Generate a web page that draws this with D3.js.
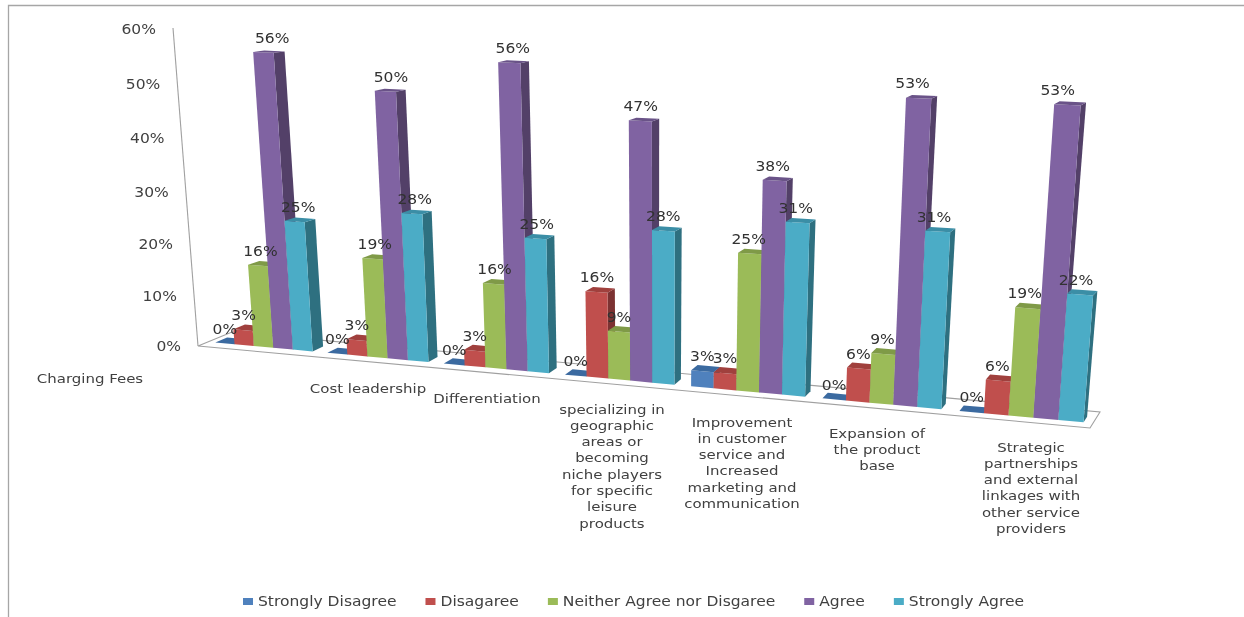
<!DOCTYPE html>
<html><head><meta charset="utf-8">
<script src="https://cdn.jsdelivr.net/npm/d3@7"></script>
<style>html,body{margin:0;padding:0;background:#fff}svg{display:block}text{font-family:"DejaVu Sans",sans-serif;fill:#404040}</style>
</head><body><div id="c"></div>
<script>
const categories = ["Charging Fees","Cost leadership","Differentiation","specializing in geographic areas or becoming niche players for specific leisure products","Improvement in customer service and Increased marketing and communication","Expansion of the product base","Strategic partnerships and external linkages with other service providers"];
const categoryLines = [["Charging Fees"],["Cost leadership"],["Differentiation"],["specializing in","geographic","areas or","becoming","niche players","for specific","leisure","products"],["Improvement","in customer","service and","Increased","marketing and","communication"],["Expansion of","the product","base"],["Strategic","partnerships","and external","linkages with","other service","providers"]];
const seriesNames = ["Strongly Disagree","Disagaree","Neither Agree nor Disgaree","Agree","Strongly Agree"];
const stronglyDisagree = [0,0,0,0,3,0,0];
const disagree = [3,3,3,16,3,6,6];
const neither = [16,19,16,9,25,9,19];
const agree = [56,50,56,47,38,53,53];
const stronglyAgree = [25,28,25,28,31,31,22];
const seriesValues = [stronglyDisagree,disagree,neither,agree,stronglyAgree];
const yTicks = [0,10,20,30,40,50,60];

const colors = ["#4F81BD","#C0504D","#9BBB59","#8064A2","#4BACC6"];
const sideColors = ["#2f4f75","#7c3331","#667c3a","#524068","#2f6f80"];
const topColors = ["#3b6aa0","#a03f3c","#7f9a47","#6a5388","#3a8ea6"];
const W=1244,H=617;

// perspective box corners: front plane and back plane
const front = {bl:[198,346],br:[1090,428],tr:[1116,65],tl:[173,28]};
const back  = {bl:[232,332],br:[1100,412],tr:[1132,57],tl:[207,25]};
function homography(c){
  const [x0,y0]=c.bl,[x1,y1]=c.br,[x2,y2]=c.tr,[x3,y3]=c.tl;
  const dx1=x1-x2,dx2=x3-x2,dx3=x0-x1+x2-x3,dy1=y1-y2,dy2=y3-y2,dy3=y0-y1+y2-y3;
  const den=dx1*dy2-dx2*dy1;
  const g=(dx3*dy2-dx2*dy3)/den,h=(dx1*dy3-dx3*dy1)/den;
  const a=x1-x0+g*x1,b=x3-x0+h*x3,d=y1-y0+g*y1,e=y3-y0+h*y3;
  return (u,v)=>{const k=g*u+h*v+1;return [(a*u+b*v+x0)/k,(d*u+e*v+y0)/k];};
}
const Hf=homography(front),Hb=homography(back);
const yScale=d3.scaleLinear().domain([0,60]).range([0,1]);
const x0=d3.scaleBand().domain(categories).range([0,1]).paddingInner(0.13).paddingOuter(0.065);
const x1=d3.scaleBand().domain(seriesNames).range([0,x0.bandwidth()]);
const depthNear=0.3,depthFar=0.65;
function project(u,value,w){
  const v=yScale(value),p=Hf(u,v),q=Hb(u,v);
  return [p[0]+(q[0]-p[0])*w,p[1]+(q[1]-p[1])*w];
}
const line=d3.line();
const svg=d3.select("#c").append("svg").attr("width",W).attr("height",H);
const defs=svg.append("defs");
defs.append("filter").attr("id","soft").attr("x","-5%").attr("y","-5%").attr("width","110%").attr("height","110%")
  .append("feGaussianBlur").attr("stdDeviation",0.45);
const root=svg.append("g").attr("filter","url(#soft)");
const stretchK=1.15;
function stretch(sel){
  sel.each(function(){
    this.setAttribute("textLength",(this.getComputedTextLength()*stretchK).toFixed(1));
    this.setAttribute("lengthAdjust","spacingAndGlyphs");
  });
  return sel;
}

// frame
root.append("path").attr("d","M8.5,617V5.5H1244").attr("fill","none").attr("stroke","#a6a6a6").attr("stroke-width",1.3);

// floor
root.append("path").attr("d",line([project(0,0,0),project(1,0,0),project(1,0,1),project(0,0,1)])+"Z")
  .attr("fill","#fff").attr("stroke","#a0a0a0").attr("stroke-width",1.1);
// value axis
root.append("path").attr("d",line([project(0,60,0),project(0,0,0)])).attr("fill","none").attr("stroke","#a0a0a0").attr("stroke-width",1.1);
stretch(root.selectAll("text.tick").data(yTicks).join("text").attr("class","tick")
  .attr("x",d=>project(0,d,0)[0]-17).attr("y",d=>project(0,d,0)[1]+(d===0?0:1))
  .attr("dy","0.35em").attr("text-anchor","end").attr("font-size",13.5).text(d=>d+"%"));

// bars
const labels=[];
categories.forEach((cat,ci)=>{
  seriesNames.forEach((s,si)=>{
    const val=seriesValues[si][ci];
    const u0=x0(cat)+x1(s),u1=u0+x1.bandwidth();
    const P=(u,v,w)=>project(u,v,w);
    const g=root.append("g");
    g.append("path").attr("d",line([P(u1,0,depthNear),P(u1,0,depthFar),P(u1,val,depthFar),P(u1,val,depthNear)])+"Z").attr("fill",sideColors[si]);
    g.append("path").attr("d",line([P(u0,0,depthNear),P(u1,0,depthNear),P(u1,val,depthNear),P(u0,val,depthNear)])+"Z").attr("fill",colors[si]);
    g.append("path").attr("d",line([P(u0,val,depthNear),P(u1,val,depthNear),P(u1,val,depthFar),P(u0,val,depthFar)])+"Z").attr("fill",topColors[si]);
    const um=(u0+u1)/2,t=P(um,val,depthNear),b=P(um,0,depthNear);
    labels.push({x:t[0]-0.45*(t[0]-b[0]),y:t[1]-14.5,text:val+"%"});
  });
});
stretch(root.selectAll("text.dl").data(labels).join("text").attr("class","dl")
  .attr("x",d=>d.x).attr("y",d=>d.y).attr("dy","0.35em").attr("text-anchor","middle").attr("font-size",13.5).style("fill","#303030").text(d=>d.text));

// category labels (layout, not data)
const labelCx=[90,368,487,612,742,877,1031],labelTop=[378,388,398,409,422,433,447],lineGap=16.3;
categoryLines.forEach((lines,i)=>{
  stretch(root.append("g").selectAll("text").data(lines).join("text")
    .attr("x",labelCx[i]).attr("y",(d,j)=>labelTop[i]+j*lineGap).attr("dy","0.35em")
    .attr("text-anchor","middle").attr("font-size",13).text(d=>d));
});

// legend
const legend=root.append("g");
let lx=243;
seriesNames.forEach((s,i)=>{
  legend.append("rect").attr("x",lx).attr("y",598).attr("width",10).attr("height",7).attr("fill",colors[i]);
  const t=legend.append("text").attr("x",lx+15).attr("y",601).attr("dy","0.35em").attr("font-size",13.5).text(s);
  const w=t.node().getComputedTextLength()*stretchK;
  stretch(t);
  lx+=15+w+29;
});
</script></body></html>
